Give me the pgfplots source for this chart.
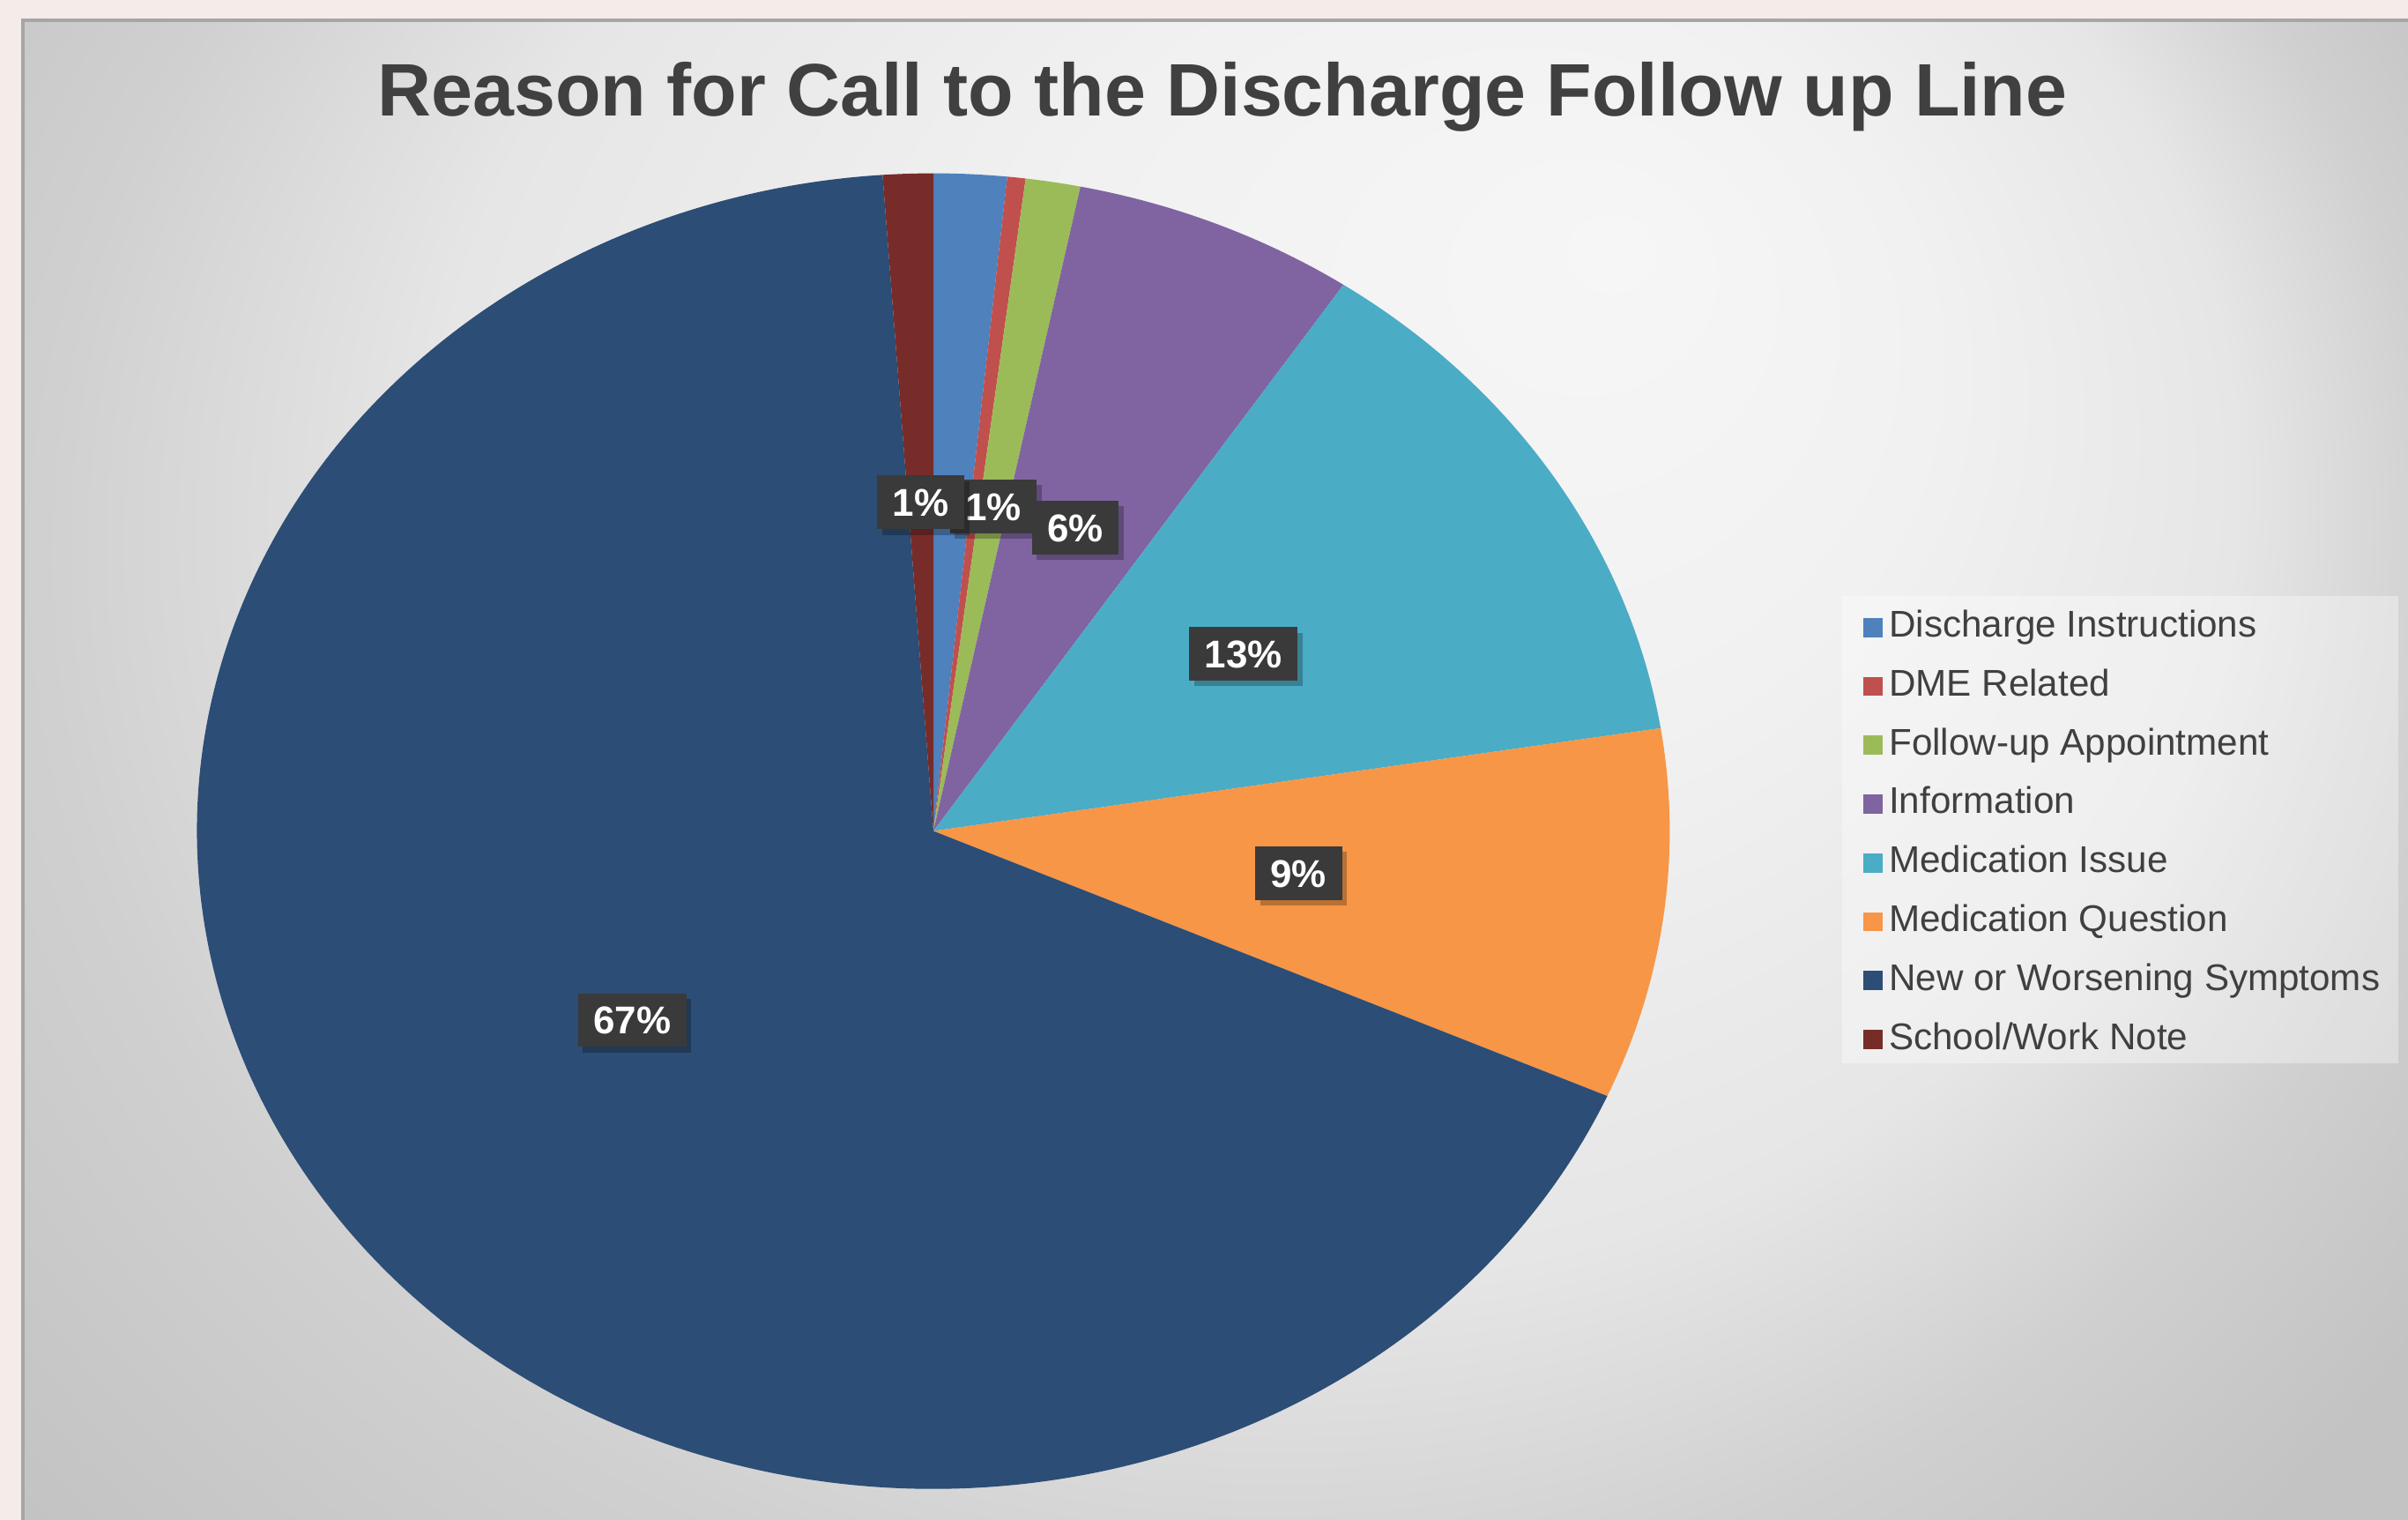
\documentclass[border=0pt]{standalone}
\usepackage{pgfplots}
\pgfplotsset{compat=1.18}
\usepackage{pgfplotstable}
\usepackage{fontspec}
\setmainfont{Liberation Sans}
\usetikzlibrary{shadows}

\definecolor{pie0}{HTML}{4F81BD}
\definecolor{pie1}{HTML}{C0504D}
\definecolor{pie2}{HTML}{9BBB59}
\definecolor{pie3}{HTML}{8064A2}
\definecolor{pie4}{HTML}{4BACC6}
\definecolor{pie5}{HTML}{F79646}
\definecolor{pie6}{HTML}{2C4D75}
\definecolor{pie7}{HTML}{772C2A}
\definecolor{framebg}{HTML}{F4ECE9}
\definecolor{titlec}{HTML}{404040}
\definecolor{lblbg}{HTML}{3A3A3A}
\definecolor{bgA}{HTML}{F6F6F6}
\definecolor{bgB}{HTML}{F1F1F1}
\definecolor{bgC}{HTML}{E6E6E6}
\definecolor{bgD}{HTML}{D0D0D0}
\definecolor{bgE}{HTML}{C8C8C8}
\definecolor{bgF}{HTML}{C3C3C3}
\pgfdeclareradialshading{chartbg}{\pgfpoint{8bp}{7.5bp}}{color(0bp)=(bgA); color(7.5bp)=(bgB); color(15bp)=(bgC); color(20bp)=(bgD); color(23bp)=(bgE); color(25bp)=(bgF)}

% share of calls, percent, clockwise from 12 o'clock
\pgfplotstableread[col sep=comma,row sep=\\]{
label,value\\
Discharge Instructions,1.6\\
DME Related,0.4\\
Follow-up Appointment,1.2\\
Information,6.2\\
Medication Issue,13.1\\
Medication Question,9.1\\
New or Worsening Symptoms,67.3\\
School/Work Note,1.1\\
}\piedata

\def\cx{1059}
\def\cy{781.4}
\def\rx{835.4}
\def\ry{746}
\def\rxcm{8.354}
\def\rycm{7.46}

\begin{document}
\begin{tikzpicture}
\def\cum{0}
\pgfplotsforeachungrouped \i in {0,...,7}{%
  \pgfplotstablegetelem{\i}{value}\of\piedata
  \let\v\pgfplotsretval
  \pgfmathsetmacro\sa{\cum*3.6}%
  \pgfmathsetmacro\cumnew{\cum+\v}%
  \pgfmathsetmacro\ea{\cumnew*3.6}%
  \pgfmathsetmacro\ma{(\sa+\ea)/2}%
  \pgfmathsetmacro\sx{\cx+\rx*sin(\sa)}%
  \pgfmathsetmacro\sy{\cy+\ry*cos(\sa)}%
  \pgfmathsetmacro\lx{\cx+0.5*\rx*sin(\ma)}%
  \pgfmathsetmacro\ly{\cy+0.5*\ry*cos(\ma)}%
  \pgfmathsetmacro\tsa{90-\sa}%
  \pgfmathsetmacro\tea{90-\ea}%
  \pgfmathtruncatemacro\rp{round(\v)}%
  \expandafter\xdef\csname pieTSA\i\endcsname{\tsa}%
  \expandafter\xdef\csname pieTEA\i\endcsname{\tea}%
  \expandafter\xdef\csname pieSX\i\endcsname{\sx}%
  \expandafter\xdef\csname pieSY\i\endcsname{\sy}%
  \expandafter\xdef\csname pieLX\i\endcsname{\lx}%
  \expandafter\xdef\csname pieLY\i\endcsname{\ly}%
  \expandafter\xdef\csname piePCT\i\endcsname{\rp}%
  \xdef\cum{\cumnew}%
}
\begin{axis}[
  name=ax,
  width=27.32cm, height=17.24cm, scale only axis,
  xmin=0, xmax=2732, ymin=0, ymax=1724,
  axis lines=none, ticks=none, clip=false,
  legend image code/.code={\fill[#1] (0pt,-2.9pt) rectangle (5.8pt,2.9pt);},
  legend style={at={(axis cs:2113,1033)}, anchor=north west, draw=none, fill=none,
    font=\fontsize{12}{14}\selectfont\color{titlec},
    nodes={inner sep=0pt, text height=8.8pt, text depth=2.6pt},
    row sep=7.6pt, inner sep=0pt, column sep=2.2pt},
  legend cell align=left,
]
% background
\fill[framebg] (axis cs:0,0) rectangle (axis cs:2732,1724);
\fill[bgF] (axis cs:26,0) rectangle (axis cs:2732,1701);
\begin{scope}
\clip (axis cs:26,0) rectangle (axis cs:2732,1701);
\shade[shading=chartbg] (axis cs:-400,-500) rectangle (axis cs:3000,2500);
\end{scope}
\draw[black!35, line width=1.2pt] (axis cs:26,0) -- (axis cs:26,1701) -- (axis cs:2732,1701);

% title
\node[anchor=base, font=\bfseries\fontsize{24}{28}\selectfont, text=titlec] at (axis cs:1387,1592) {Reason for Call to the Discharge Follow up Line};

% legend background
\fill[white, opacity=0.35] (axis cs:2090,518) rectangle (axis cs:2721,1048);

% wedges
\pgfplotsinvokeforeach{0,...,7}{%
  \fill[pie#1] (axis cs:\cx,\cy) -- (axis cs:\csname pieSX#1\endcsname,\csname pieSY#1\endcsname)
    arc[start angle=\csname pieTSA#1\endcsname, end angle=\csname pieTEA#1\endcsname, x radius=\rxcm cm, y radius=\rycm cm] -- cycle;
}
% data labels (the two thinnest slices carry none in the original)
\pgfplotsinvokeforeach{2,...,7}{%
  \node[fill=lblbg, text=white, font=\bfseries\fontsize{12.5}{14}\selectfont,
    inner xsep=5pt, inner ysep=4.2pt, text height=8.9pt, text depth=0pt,
    drop shadow={shadow xshift=1.6pt, shadow yshift=-1.8pt, opacity=0.25, fill=black}]
    at (axis cs:\csname pieLX#1\endcsname,\csname pieLY#1\endcsname) {\csname piePCT#1\endcsname\%};
}

\addlegendimage{pie0}\addlegendentry{Discharge Instructions}
\addlegendimage{pie1}\addlegendentry{DME Related}
\addlegendimage{pie2}\addlegendentry{Follow-up Appointment}
\addlegendimage{pie3}\addlegendentry{Information}
\addlegendimage{pie4}\addlegendentry{Medication Issue}
\addlegendimage{pie5}\addlegendentry{Medication Question}
\addlegendimage{pie6}\addlegendentry{New or Worsening Symptoms}
\addlegendimage{pie7}\addlegendentry{School/Work Note}
\end{axis}
\pgfresetboundingbox
\path (ax.south west) rectangle (ax.north east);
\end{tikzpicture}
\end{document}
